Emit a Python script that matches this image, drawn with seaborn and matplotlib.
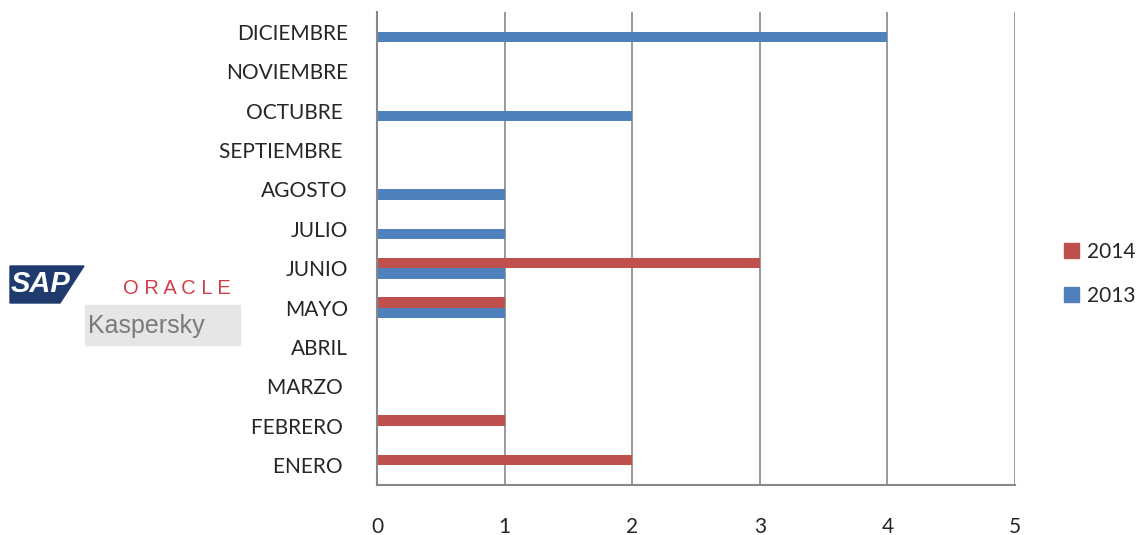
import pandas as pd
import matplotlib.pyplot as plt
import matplotlib.patches as mpatches
import seaborn as sns

# datos del grafico
meses = ["ENERO ", "FEBRERO ", "MARZO ", "ABRIL", "MAYO", "JUNIO", "JULIO",
         "AGOSTO", "SEPTIEMBRE ", "OCTUBRE ", "NOVIEMBRE", "DICIEMBRE"]
valores_2013 = [0, 0, 0, 0, 1, 1, 1, 1, 0, 2, 0, 4]
valores_2014 = [2, 1, 0, 0, 1, 3, 0, 0, 0, 0, 0, 0]
anios = ["2014", "2013"]
x_ticks = [0, 1, 2, 3, 4, 5]

df = pd.DataFrame({
    "Mes": meses * 2,
    "Valor": valores_2014 + valores_2013,
    "Año": ["2014"] * len(meses) + ["2013"] * len(meses),
})

sns.set_theme(style="white")
plt.rcParams["font.family"] = ["Lato", "DejaVu Sans"]

fig = plt.figure(figsize=(11.43, 5.35), dpi=100)
ax = fig.add_axes([377 / 1143, 50 / 535, (1015 - 377) / 1143, (485 - 12) / 535])

colores = {"2014": "#C0504D", "2013": "#4F81BD"}
sns.barplot(data=df, y="Mes", x="Valor", hue="Año", order=meses[::-1],
            hue_order=anios, palette=colores, orient="h", width=0.54,
            gap=0, saturation=1, linewidth=0, legend=False, ax=ax)

gris = "#888888"
ax.set_xlim(0, 5)
ax.set_ylim(11.5, -0.5)
ax.set_xticks(x_ticks)
ax.set_xticklabels([str(t) for t in x_ticks], fontsize=15)
ax.set_yticks(range(12))
ax.set_yticklabels(meses[::-1], fontsize=15)
ax.set_yticks([i - 0.5 for i in range(13)], minor=True)
ax.tick_params(axis="y", which="major", length=0, pad=21)
ax.tick_params(axis="y", which="minor", length=6, color=gris, width=1.2)
ax.tick_params(axis="x", which="major", length=6, color=gris, width=1.2, pad=17)
ax.set_xlabel("")
ax.set_ylabel("")
ax.grid(axis="x", color=gris, linewidth=1.2)
ax.set_axisbelow(True)
for s in ["top", "right"]:
    ax.spines[s].set_visible(False)
for s in ["left", "bottom"]:
    ax.spines[s].set_color(gris)
    ax.spines[s].set_linewidth(1.5)

# leyenda
handles = [mpatches.Patch(color=colores[a], label=a) for a in anios]
fig.legend(handles=handles, loc="center left", bbox_to_anchor=(1064 / 1143, 1 - 274 / 535),
           frameon=False, fontsize=15, handlelength=0.72, handleheight=0.72,
           handletextpad=0.38, labelspacing=1.15, borderpad=0, borderaxespad=0)

# logos a la izquierda
fig.patches.append(mpatches.Polygon([[10 / 1143, 1 - 266 / 535], [84 / 1143, 1 - 266 / 535],
                                     [60 / 1143, 1 - 303 / 535], [10 / 1143, 1 - 303 / 535]],
                                    closed=True, transform=fig.transFigure, color="#1F3B6E"))
fig.text(11 / 1143, 1 - 284 / 535, "SAP", color="white", fontsize=21, fontweight="bold",
         va="center", ha="left", family="Liberation Sans", style="italic")
fig.patches.append(mpatches.Rectangle((85 / 1143, 1 - 345 / 535), 155 / 1143, 40 / 535,
                                      transform=fig.transFigure, color="#E6E6E6"))
fig.text(177 / 1143, 1 - 288 / 535, "O R A C L E", color="#D0404A", fontsize=14.5,
         va="center", ha="center", family="Liberation Sans")
fig.text(88 / 1143, 1 - 326 / 535, "Kaspersky", color="#7A7A7A", fontsize=18,
         va="center", ha="left", family="Liberation Sans")

fig.savefig("out.png", dpi=100)
